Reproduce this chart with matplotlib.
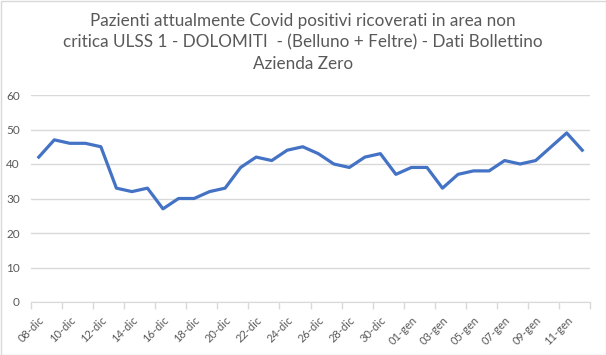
import matplotlib
matplotlib.use("Agg")
import matplotlib.pyplot as plt
from matplotlib.patches import Rectangle

dates = ["08-dic", "09-dic", "10-dic", "11-dic", "12-dic", "13-dic", "14-dic", "15-dic",
         "16-dic", "17-dic", "18-dic", "19-dic", "20-dic", "21-dic", "22-dic", "23-dic",
         "24-dic", "25-dic", "26-dic", "27-dic", "28-dic", "29-dic", "30-dic", "31-dic",
         "01-gen", "02-gen", "03-gen", "04-gen", "05-gen", "06-gen", "07-gen", "08-gen",
         "09-gen", "10-gen", "11-gen", "12-gen"]
values = [42, 47, 46, 46, 45, 33, 32, 33, 27, 30, 30, 32, 33, 39, 42, 41, 44, 45, 43, 40,
          39, 42, 43, 37, 39, 39, 33, 37, 38, 38, 41, 40, 41, 45, 49, 44]
yticks = [0, 10, 20, 30, 40, 50, 60]
title = ("Pazienti attualmente Covid positivi ricoverati in area non\n"
         "critica ULSS 1 - DOLOMITI  - (Belluno + Feltre) - Dati Bollettino\n"
         "Azienda Zero")

plt.rcParams['font.family'] = ['Lato', 'DejaVu Sans']
txt = '#595959'
grid = '#d9d9d9'

fig = plt.figure(figsize=(6.06, 3.55), dpi=100)
fig.patches.append(Rectangle((0.5/606, 0.5/355), 1 - 1/606, 1 - 1/355, transform=fig.transFigure,
                             fill=False, edgecolor='#d9d9d9', linewidth=1))
ax = fig.add_axes([31/606, 1 - 302/355, (590 - 31)/606, (302 - 95)/355])

x = list(range(len(dates)))
ax.plot(x, values, color='#4472C4', linewidth=2.3, solid_joinstyle='round', zorder=3)

ax.set_xlim(-0.5, len(dates) - 0.5)
ax.set_ylim(0, 60)
ax.set_yticks(yticks)
ax.set_yticklabels([str(v) for v in yticks], color=txt, fontsize=8.5)
ax.grid(axis='y', color=grid, linewidth=1)
ax.set_axisbelow(True)

ax.set_xticks([i - 0.5 for i in range(0, len(dates) + 1, 2)])
ax.set_xticklabels([])
ax.set_xticks(x[::2], minor=True)
ax.set_xticklabels(dates[::2], minor=True, rotation=45, ha='right', rotation_mode='anchor',
                   color=txt, fontsize=8)
ax.tick_params(axis='x', which='major', length=5, color=grid, width=1)
ax.tick_params(axis='x', which='minor', length=0, pad=9)
ax.tick_params(axis='y', length=0, pad=8)

for s in ['top', 'right', 'left']:
    ax.spines[s].set_visible(False)
ax.spines['bottom'].set_color(grid)

fig.text(0.5, 1 - 13/355, title, ha='center', va='top', color=txt, fontsize=12.3,
         linespacing=1.42)

fig.savefig('out.png', dpi=100)
